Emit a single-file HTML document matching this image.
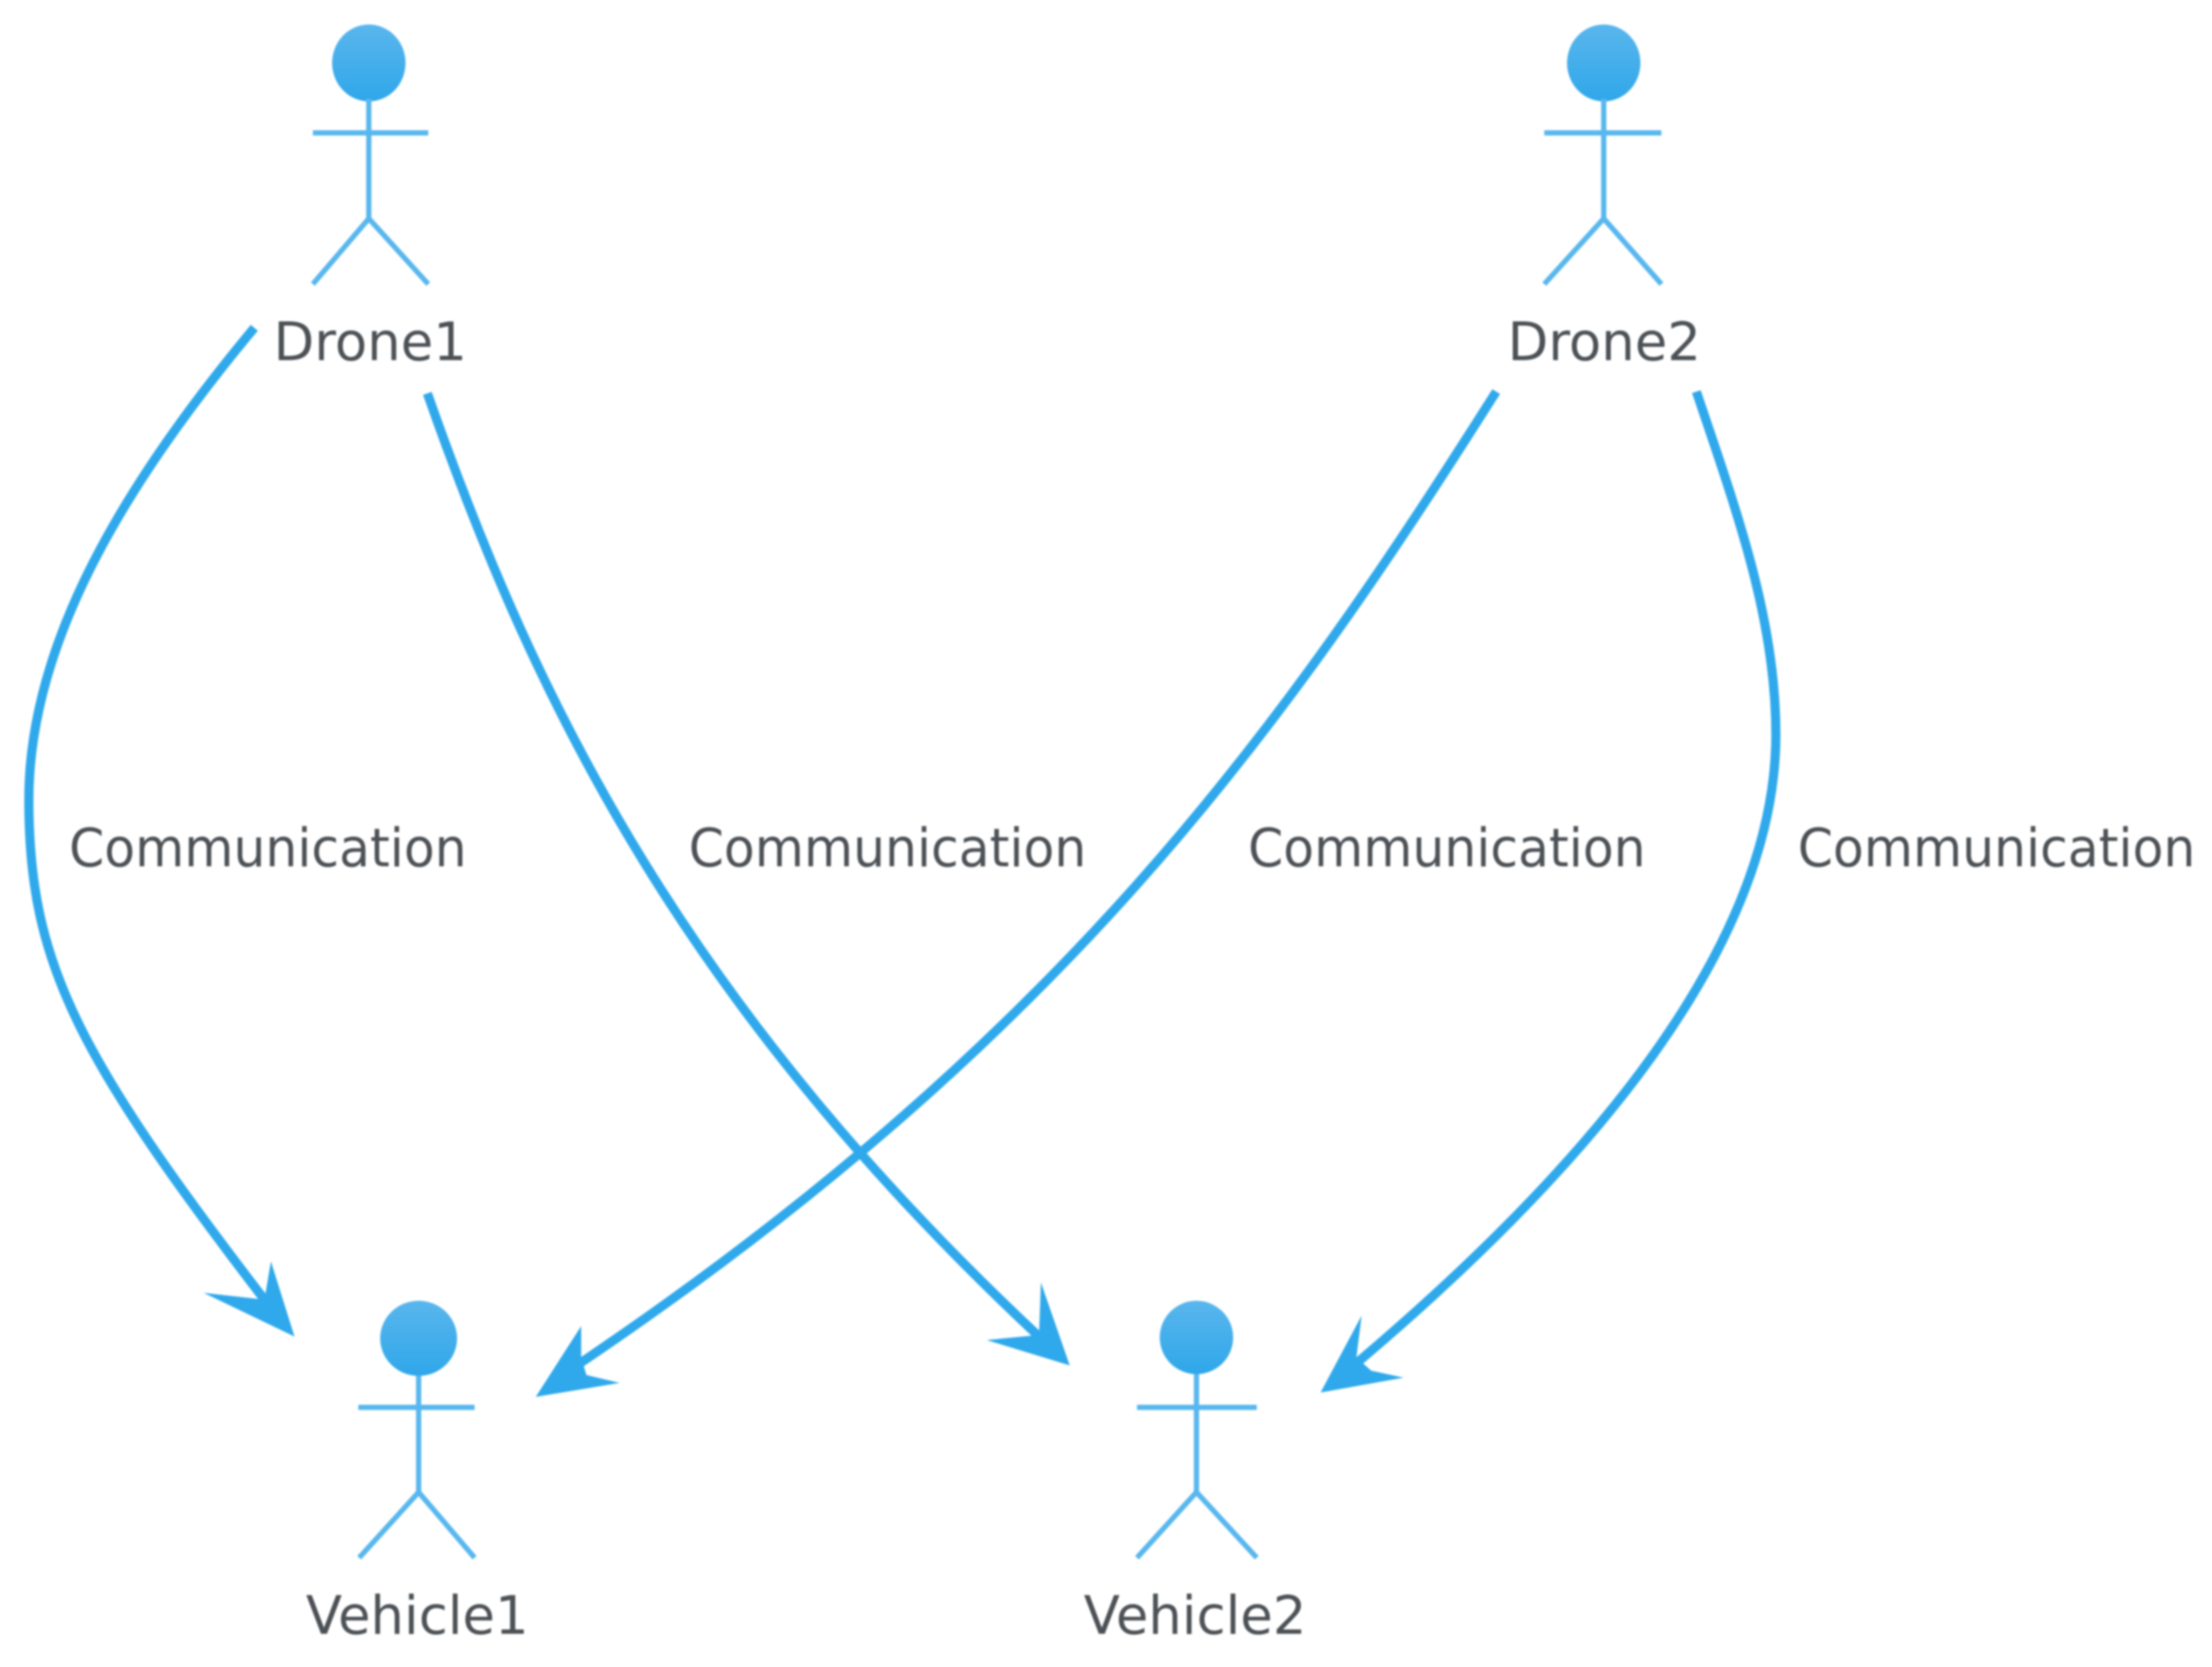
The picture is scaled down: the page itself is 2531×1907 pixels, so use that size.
<!DOCTYPE html>
<html><head><meta charset="utf-8"><style>
html,body{margin:0;padding:0;background:#fff;width:2531px;height:1907px;overflow:hidden}
svg{display:block;filter:blur(1px)}
text{font-family:"DejaVu Sans","Liberation Sans",sans-serif;font-size:60.5px;fill:#4c5156}
.a{stroke:#58b7ee;stroke-width:6;fill:none}
.c{stroke:#2fa9ec;stroke-width:10.5;fill:none}
.h{fill:#2fa9ec}
</style></head><body>
<svg width="2531" height="1907" viewBox="0 0 2531 1907" xmlns="http://www.w3.org/2000/svg">
<defs><linearGradient id="g" x1="0" y1="0" x2="0" y2="1"><stop offset="0" stop-color="#5ab6ed"/><stop offset="1" stop-color="#2fa7ea"/></linearGradient></defs>

<g><ellipse cx="422" cy="72" rx="42" ry="44" fill="url(#g)"/><path class="a" d="M422 113V250M358 152H490M358 325L422 250L490 325"/></g>
<g><ellipse cx="1835" cy="72" rx="42" ry="44" fill="url(#g)"/><path class="a" d="M1835 113V250M1767 152H1901M1767 325L1835 250L1901 325"/></g>
<g><ellipse cx="479" cy="1531" rx="44" ry="43" fill="url(#g)"/><path class="a" d="M479 1574V1707M410 1610H543M411 1782L479 1707L543 1782"/></g>
<g><ellipse cx="1369" cy="1530" rx="42" ry="42" fill="url(#g)"/><path class="a" d="M1369 1572V1707M1301 1610H1438M1301 1782L1369 1707L1438 1782"/></g>

<path class="c" d="M291 375C130 568 33 745 33 915C33 1105 90 1212 322 1512"/>
<path class="c" d="M489 450C614 807 785 1156 1205 1544"/>
<path class="c" d="M1712 448C1471 828 1217 1193 636 1578"/>
<path class="c" d="M1941 448C1989 590 2032 710 2032 840C2032 1020 1915 1258 1530 1578"/>

<polygon class="h" points="337,1529 310,1443 303,1484 296,1486 233,1479"/>
<polygon class="h" points="1224,1562 1191,1467 1189,1523 1180,1528 1129,1533"/>
<polygon class="h" points="613,1598 665,1517 665,1553 671,1573 709,1582"/>
<polygon class="h" points="1511,1593 1558,1505 1552,1553 1569,1568 1606,1576"/>

<text x="313" y="412">Drone1</text>
<text x="1725" y="412">Drone2</text>
<text x="350" y="1869">Vehicle1</text>
<text x="1240" y="1869">Vehicle2</text>
<text x="79" y="991" textLength="455" lengthAdjust="spacingAndGlyphs">Communication</text>
<text x="788" y="991" textLength="455" lengthAdjust="spacingAndGlyphs">Communication</text>
<text x="1428" y="991" textLength="455" lengthAdjust="spacingAndGlyphs">Communication</text>
<text x="2057" y="991" textLength="455" lengthAdjust="spacingAndGlyphs">Communication</text>
</svg>
</body></html>
